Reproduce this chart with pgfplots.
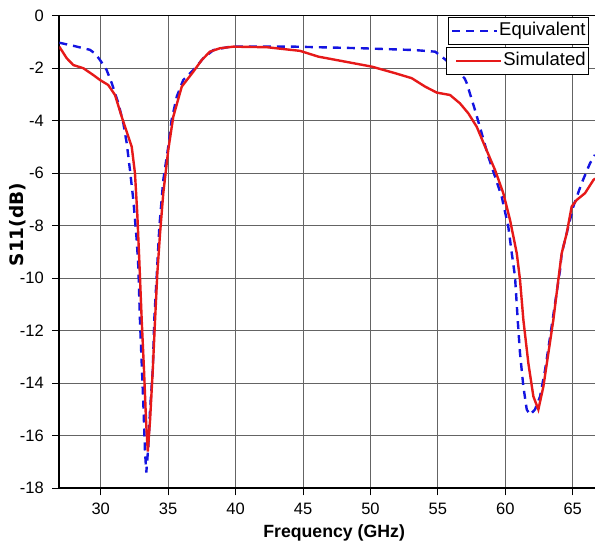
\documentclass[border=0pt]{standalone}
\usepackage{fontspec}
\setmainfont{Liberation Sans}
\newfontfamily\dejavu{DejaVu Sans}
\usepackage{pgfplots}
\pgfplotsset{compat=1.18}
\definecolor{eqblue}{RGB}{20,20,225}
\definecolor{simred}{RGB}{230,25,25}
\definecolor{gridgray}{RGB}{100,100,100}
\pgfplotsset{
  mylegend/.style={
    legend style={anchor=north east, draw=black, line width=0.8pt, fill=white,
      font=\fontsize{18.5}{20}\selectfont, inner xsep=2pt, inner ysep=3pt,
      nodes={inner sep=1pt, text height=14.5pt, text depth=5pt}},
    legend cell align=left,
    legend image code/.code={\draw[##1] (0pt,0pt) -- (45pt,0pt);},
  },
  base/.style={
    scale only axis, width=535.7pt, height=472.6pt,
    xmin=26.93, xmax=66.65, ymin=-18, ymax=0,
  }
}
\begin{document}
\begin{tikzpicture}
\begin{axis}[base, mylegend,
  legend style={at={(rel axis cs:0.9888,0.9973)}},
  xtick={30,35,...,65}, ytick={-18,-16,...,0},
  axis x line=box, axis y line=left,
  axis line style={-, line width=1.6pt, black},
  grid=major, major grid style={gridgray, line width=1pt},
  tick align=outside, major tick length=7pt, tick style={black, line width=1pt},
  xtick pos=bottom, ytick pos=left,
  ticklabel style={font=\fontsize{16.5}{17}\selectfont},
  xticklabel style={yshift=-4pt},
  yticklabel style={xshift=-5pt},
  /pgf/number format/assume math mode=true,
  xlabel={Frequency (GHz)}, ylabel={S11(dB)},
  xlabel style={font=\fontsize{17.7}{20}\selectfont\bfseries, at={(axis description cs:0.513,-0.0946)}, anchor=center},
  ylabel style={font=\dejavu\fontsize{18.5}{20}\selectfont\bfseries, at={(axis description cs:-0.078,0.558)}, anchor=center},
]
\coordinate (ll) at (rel axis cs:0,0);
\coordinate (ur) at (rel axis cs:1,1);
\addplot[eqblue, line width=2.4pt, dash pattern=on 8pt off 6pt] coordinates {
(26.93,-1.03) (28,-1.15) (29.2,-1.3) (29.6,-1.45) (29.95,-1.69) (30.44,-2.07) (30.82,-2.57) (31.31,-3.34) (31.68,-4.1) (31.93,-4.86) (32.17,-5.88) (32.42,-7.02) (32.67,-8.54) (32.79,-9.56) (32.91,-11.59) (33.04,-13.24) (33.16,-14.76) (33.28,-16.54) (33.38,-17.4) (33.53,-16.41) (33.66,-15.0) (33.86,-13.5) (33.97,-11.6) (34.15,-9.94) (34.35,-8.03) (34.64,-6.26) (35.01,-4.99) (35.26,-3.97) (35.64,-3.08) (36.12,-2.45) (36.87,-2.07) (37.61,-1.62) (38.35,-1.31) (39.59,-1.18) (44.41,-1.18) (49.35,-1.24) (53.31,-1.31) (54.79,-1.37) (55.29,-1.56) (56.2,-1.95) (57.0,-2.4) (57.14,-2.57) (57.75,-3.59) (58.25,-4.48) (58.74,-5.37) (59.24,-6.13) (59.73,-6.89) (60.22,-8.03) (60.48,-9.05) (60.72,-9.94) (60.92,-11.59) (61.09,-12.86) (61.34,-14.13) (61.59,-15.0) (61.83,-15.2) (62.2,-15.0) (62.58,-14.5) (62.95,-13.49) (63.32,-12.23) (63.69,-10.95) (64.06,-9.68) (64.18,-9.05) (64.55,-8.29) (65.04,-7.27) (65.66,-6.38) (66.28,-5.62) (66.65,-5.3)
};
\addlegendentry{Equivalent}
\addplot[simred, line width=2.4pt, forget plot] coordinates {
(26.93,-1.18) (27.48,-1.62) (27.97,-1.88) (28.71,-2.0) (29.45,-2.26) (29.95,-2.45) (30.56,-2.64) (31.06,-3.02) (31.56,-3.85) (32.05,-4.61) (32.3,-4.99) (32.54,-6.0) (32.71,-7.52) (32.86,-9.3) (33.04,-11.59) (33.21,-13.49) (33.36,-15.4) (33.49,-16.6) (33.66,-15.4) (33.86,-13.5) (34.03,-11.59) (34.2,-9.8) (34.4,-8.29) (34.64,-6.76) (35.01,-5.11) (35.38,-3.85) (36.01,-2.7) (36.87,-2.13) (37.49,-1.69) (38.1,-1.37) (38.84,-1.24) (39.83,-1.18) (42.31,-1.2) (44.78,-1.34) (46.14,-1.56) (48.12,-1.75) (50.1,-1.94) (51.83,-2.19) (53.06,-2.38) (54.05,-2.7) (54.92,-2.93) (55.9,-3.02) (56.64,-3.34) (57.26,-3.72) (57.88,-4.23) (58.5,-4.99) (59.24,-5.88) (59.85,-6.76) (60.35,-7.78) (60.85,-9.05) (61.09,-10.06) (61.34,-11.59) (61.71,-13.24) (62.08,-14.5) (62.45,-15.0) (62.82,-14.13) (63.19,-12.86) (63.56,-11.59) (63.93,-10.06) (64.18,-9.05) (64.55,-8.29) (64.92,-7.27) (65.29,-7.02) (65.91,-6.76) (66.53,-6.26) (66.65,-6.2)
};
\end{axis}
\begin{axis}[base, hide axis, mylegend,
  legend style={at={(rel axis cs:0.9888,0.9338)}},
  legend image code/.code={\path (0pt,0pt); \draw[#1] (7pt,0pt) -- (52pt,0pt);},
]
\addlegendimage{simred, line width=2.4pt}
\addlegendentry{Simulated}
\end{axis}
\pgfresetboundingbox
\path ([xshift=-59.3pt,yshift=-56.7pt]ll) rectangle ([yshift=15.7pt]ur);
\end{tikzpicture}
\end{document}
